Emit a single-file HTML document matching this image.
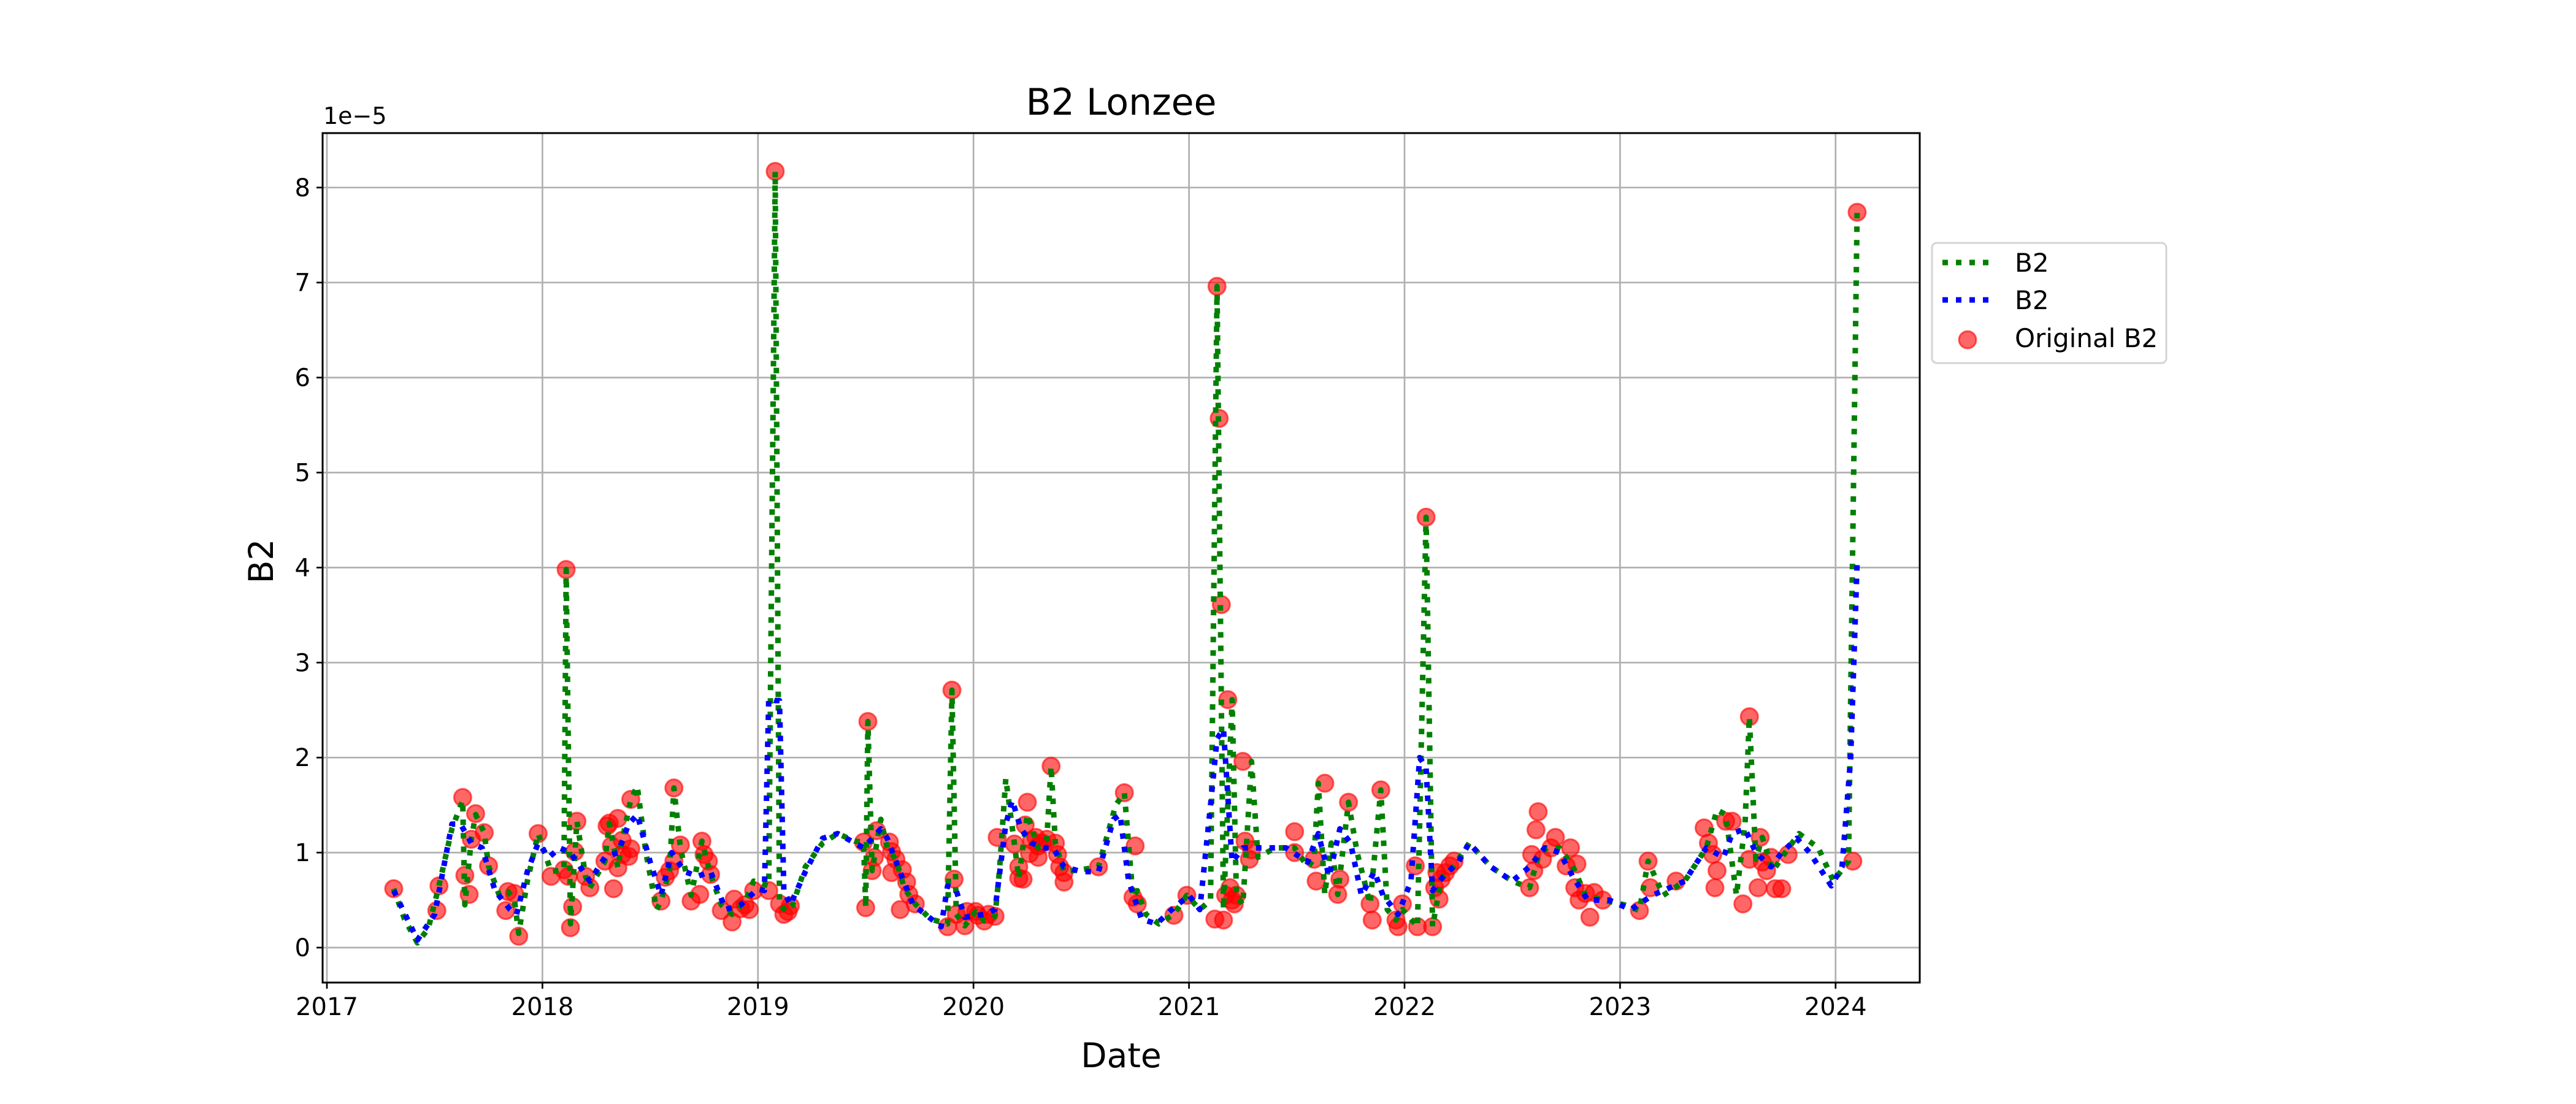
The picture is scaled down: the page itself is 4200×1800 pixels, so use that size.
<!DOCTYPE html>
<html><head><meta charset="utf-8"><style>
html,body{margin:0;padding:0;background:#fff;}
svg{display:block;font-family:"DejaVu Sans","Liberation Sans",sans-serif;}
</style></head><body>
<svg id="chart" width="4200" height="1800" viewBox="0 0 4200 1800" xmlns="http://www.w3.org/2000/svg">
<g id="grid"></g>
<g id="scatter"></g>
<g id="lines"></g>
<g id="axes"></g>
<text x="1828" y="187" font-size="60" text-anchor="middle">B2 Lonzee</text>
<text x="1828" y="1740" font-size="55" text-anchor="middle">Date</text>
<text x="445" y="915" font-size="55" text-anchor="middle" transform="rotate(-90 445 915)">B2</text>
<text x="527" y="202" font-size="38">1e−5</text>
<g>
<rect x="3150" y="396" width="382" height="196" rx="8" fill="#fff" fill-opacity="0.8" stroke="#d4d4d4" stroke-width="3"/>
<line x1="3167" y1="428" x2="3242" y2="428" stroke="#008000" stroke-width="9" stroke-dasharray="9 13"/>
<text x="3285" y="443" font-size="42">B2</text>
<line x1="3167" y1="489" x2="3242" y2="489" stroke="#0000ff" stroke-width="9" stroke-dasharray="9 13"/>
<text x="3285" y="504" font-size="42">B2</text>
<ellipse cx="3208" cy="554" rx="14" ry="14" fill="rgba(255,0,0,0.6)" stroke="rgba(255,0,0,0.6)" stroke-width="3"/>
<text x="3285" y="566" font-size="42">Original B2</text>
</g>
</svg>
<script>
const yTicks=[0,1,2,3,4,5,6,7,8];
const xTicks=[2017,2018,2019,2020,2021,2022,2023,2024];
const pointDates=[2017.31,2017.51,2017.52,2017.63,2017.64,2017.66,2017.67,2017.69,2017.73,2017.75,2017.83,2017.84,2017.87,2017.89,2017.98,2018.04,2018.10,2018.11,2018.12,2018.13,2018.14,2018.15,2018.16,2018.20,2018.22,2018.29,2018.30,2018.31,2018.32,2018.33,2018.35,2018.35,2018.37,2018.37,2018.40,2018.41,2018.41,2018.55,2018.57,2018.59,2018.61,2018.61,2018.64,2018.69,2018.73,2018.74,2018.75,2018.77,2018.78,2018.83,2018.88,2018.89,2018.92,2018.94,2018.96,2018.98,2019.05,2019.08,2019.10,2019.12,2019.14,2019.15,2019.49,2019.50,2019.51,2019.53,2019.54,2019.55,2019.61,2019.62,2019.62,2019.64,2019.66,2019.67,2019.69,2019.70,2019.73,2019.88,2019.90,2019.91,2019.92,2019.96,2019.97,2020.01,2020.02,2020.05,2020.07,2020.10,2020.11,2020.19,2020.21,2020.21,2020.23,2020.24,2020.25,2020.26,2020.27,2020.29,2020.30,2020.30,2020.32,2020.34,2020.36,2020.38,2020.39,2020.40,2020.42,2020.42,2020.58,2020.70,2020.74,2020.75,2020.76,2020.93,2020.99,2021.12,2021.13,2021.14,2021.15,2021.16,2021.17,2021.18,2021.19,2021.20,2021.21,2021.22,2021.25,2021.26,2021.28,2021.29,2021.49,2021.49,2021.58,2021.59,2021.63,2021.69,2021.70,2021.74,2021.84,2021.85,2021.89,2021.96,2021.97,2021.99,2022.05,2022.06,2022.10,2022.13,2022.14,2022.15,2022.16,2022.17,2022.19,2022.21,2022.23,2022.58,2022.59,2022.60,2022.61,2022.62,2022.64,2022.68,2022.70,2022.75,2022.77,2022.79,2022.80,2022.81,2022.84,2022.86,2022.88,2022.92,2023.09,2023.13,2023.14,2023.26,2023.39,2023.41,2023.43,2023.44,2023.45,2023.49,2023.52,2023.57,2023.60,2023.60,2023.64,2023.65,2023.66,2023.68,2023.70,2023.72,2023.75,2023.78,2024.08,2024.10];
const pointValues=[0.62,0.39,0.65,1.58,0.76,0.56,1.14,1.41,1.21,0.86,0.39,0.59,0.57,0.12,1.20,0.75,0.82,3.98,0.75,0.21,0.43,1.01,1.33,0.75,0.63,0.91,1.28,1.31,1.07,0.62,1.36,0.84,1.13,0.98,0.96,1.56,1.04,0.49,0.74,0.81,1.68,0.91,1.08,0.49,0.56,1.12,0.98,0.91,0.77,0.39,0.27,0.51,0.41,0.45,0.40,0.60,0.60,8.17,0.46,0.35,0.38,0.44,1.11,0.42,2.38,0.81,0.95,1.23,1.11,1.01,0.79,0.93,0.40,0.82,0.69,0.56,0.46,0.22,2.71,0.72,0.35,0.23,0.38,0.38,0.34,0.28,0.35,0.33,1.16,1.09,0.85,0.73,0.72,1.29,1.53,0.99,1.13,1.16,1.07,0.95,1.10,1.14,1.91,1.10,0.98,0.85,0.69,0.79,0.85,1.63,0.53,1.07,0.46,0.34,0.55,0.30,6.96,5.57,3.61,0.29,0.55,2.61,0.63,0.50,0.46,0.55,1.96,1.12,0.93,1.03,1.22,1.00,0.93,0.70,1.73,0.56,0.72,1.53,0.46,0.29,1.66,0.29,0.22,0.46,0.86,0.22,4.53,0.22,0.63,0.79,0.51,0.72,0.79,0.86,0.91,0.63,0.98,0.81,1.24,1.43,0.93,1.05,1.16,0.86,1.05,0.63,0.88,0.50,0.57,0.32,0.58,0.50,0.39,0.91,0.63,0.70,1.26,1.10,0.98,0.63,0.81,1.33,1.33,0.46,2.43,0.93,0.63,1.16,0.90,0.81,0.95,0.62,0.62,0.98,0.91,7.74];
const greenDates=[2017.31,2017.36,2017.42,2017.47,2017.52,2017.58,2017.63,2017.64,2017.67,2017.69,2017.73,2017.75,2017.80,2017.84,2017.87,2017.89,2017.93,2017.98,2018.04,2018.10,2018.11,2018.13,2018.16,2018.20,2018.22,2018.29,2018.31,2018.35,2018.37,2018.41,2018.44,2018.48,2018.53,2018.55,2018.59,2018.61,2018.64,2018.69,2018.74,2018.78,2018.83,2018.88,2018.94,2018.98,2019.05,2019.08,2019.10,2019.13,2019.16,2019.22,2019.30,2019.37,2019.45,2019.49,2019.50,2019.51,2019.53,2019.57,2019.60,2019.64,2019.68,2019.73,2019.80,2019.88,2019.90,2019.92,2019.96,2020.01,2020.05,2020.10,2020.12,2020.15,2020.19,2020.21,2020.25,2020.30,2020.34,2020.36,2020.38,2020.42,2020.50,2020.58,2020.66,2020.70,2020.74,2020.76,2020.80,2020.86,2020.93,2020.99,2021.05,2021.10,2021.13,2021.16,2021.20,2021.22,2021.25,2021.29,2021.32,2021.40,2021.49,2021.55,2021.58,2021.60,2021.63,2021.66,2021.69,2021.74,2021.78,2021.84,2021.89,2021.92,2021.96,2021.99,2022.06,2022.10,2022.13,2022.17,2022.23,2022.30,2022.40,2022.50,2022.58,2022.62,2022.66,2022.72,2022.78,2022.84,2022.92,2023.02,2023.09,2023.13,2023.20,2023.30,2023.40,2023.45,2023.49,2023.54,2023.58,2023.60,2023.63,2023.66,2023.71,2023.76,2023.83,2023.92,2023.99,2024.06,2024.10];
const greenValues=[0.62,0.30,0.05,0.20,0.65,1.25,1.55,0.45,1.14,1.40,1.21,0.86,0.55,0.59,0.50,0.15,0.70,1.20,0.80,0.82,3.98,0.25,1.33,0.75,0.63,0.91,1.31,0.84,1.13,1.56,1.70,1.00,0.40,0.49,0.81,1.68,1.05,0.55,1.12,0.77,0.45,0.35,0.48,0.70,0.65,8.17,0.46,0.38,0.44,0.85,1.10,1.20,1.12,1.11,0.42,2.38,0.81,1.35,1.05,0.93,0.62,0.46,0.30,0.25,2.71,0.35,0.23,0.38,0.28,0.33,0.80,1.78,1.09,0.73,1.40,1.05,1.14,1.91,1.10,0.80,0.82,0.85,1.50,1.63,0.53,0.60,0.35,0.25,0.35,0.55,0.40,0.50,6.96,0.40,2.61,0.55,0.45,1.96,0.95,1.05,1.05,0.85,0.93,1.73,0.56,1.10,0.56,1.53,1.00,0.46,1.66,0.40,0.29,0.40,0.22,4.53,0.22,0.72,0.86,1.10,0.85,0.70,0.63,0.95,1.05,1.05,0.86,0.55,0.50,0.45,0.39,0.91,0.55,0.70,1.05,1.45,1.40,0.55,1.30,2.43,0.93,1.16,0.81,0.98,1.20,1.05,0.70,0.91,7.74];
const blueDates=[2017.31,2017.42,2017.50,2017.58,2017.62,2017.67,2017.72,2017.78,2017.85,2017.88,2017.93,2017.98,2018.03,2018.08,2018.13,2018.16,2018.22,2018.29,2018.35,2018.40,2018.44,2018.50,2018.55,2018.60,2018.66,2018.72,2018.78,2018.85,2018.92,2019.00,2019.03,2019.05,2019.08,2019.10,2019.12,2019.15,2019.22,2019.30,2019.37,2019.45,2019.49,2019.53,2019.57,2019.60,2019.65,2019.72,2019.85,2019.88,2019.92,2019.96,2020.05,2020.10,2020.15,2020.18,2020.22,2020.27,2020.33,2020.37,2020.42,2020.50,2020.58,2020.65,2020.68,2020.72,2020.78,2020.85,2020.92,2021.00,2021.05,2021.10,2021.13,2021.16,2021.20,2021.25,2021.35,2021.45,2021.55,2021.60,2021.65,2021.70,2021.75,2021.80,2021.86,2021.90,2021.97,2022.03,2022.07,2022.10,2022.13,2022.18,2022.25,2022.30,2022.40,2022.50,2022.58,2022.65,2022.72,2022.78,2022.85,2022.95,2023.05,2023.15,2023.30,2023.40,2023.48,2023.52,2023.58,2023.63,2023.70,2023.75,2023.82,2023.88,2023.98,2024.03,2024.07,2024.10];
const blueValues=[0.60,0.08,0.35,1.30,1.30,1.10,1.05,0.60,0.40,0.35,0.80,1.10,0.95,1.05,1.00,0.90,0.70,0.95,1.00,1.30,1.40,0.90,0.55,1.00,0.80,0.75,0.80,0.40,0.45,0.62,0.60,2.62,2.60,2.60,0.60,0.45,0.80,1.15,1.20,1.10,1.05,1.15,1.25,1.15,0.85,0.45,0.22,0.65,0.60,0.32,0.35,0.40,1.30,1.55,1.25,1.10,1.05,1.05,0.85,0.80,0.80,1.35,1.40,0.70,0.30,0.25,0.40,0.55,0.40,1.50,2.20,2.30,0.90,1.05,1.05,1.05,0.90,1.20,0.75,1.25,1.10,0.55,0.80,0.55,0.35,0.70,2.00,1.90,0.60,0.75,0.90,1.10,0.85,0.70,0.85,1.05,1.00,0.75,0.50,0.50,0.40,0.55,0.70,1.05,0.95,1.20,1.25,1.00,0.85,1.00,1.15,1.00,0.65,0.85,2.00,4.05];

const NS='http://www.w3.org/2000/svg';
const L=526,R=3130,T=217,B=1602;
function xS(yr){return 533+(yr-2017)*351.4;}
function yS(v){return 1545-v*154.9;}
function mk(tag,attrs,parent){const e=document.createElementNS(NS,tag);for(const k in attrs)e.setAttribute(k,attrs[k]);parent.appendChild(e);return e;}
const grid=document.getElementById('grid'),axes=document.getElementById('axes'),sc=document.getElementById('scatter'),lines=document.getElementById('lines');
yTicks.forEach(v=>{
  const g=mk('line',{x1:L,x2:R,y1:yS(v),y2:yS(v),stroke:'#b0b0b0','stroke-width':2.7},grid);
  
  
  const t=mk('line',{x1:L-10,x2:L,y1:yS(v),y2:yS(v),stroke:'#000','stroke-width':2.7},axes);
  
  
  const lb=mk('text',{x:L-20,y:yS(v)+14,'font-size':40,'text-anchor':'end'},axes);
  lb.textContent=String(v);
  
  
});
xTicks.forEach(yr=>{
  const g=mk('line',{x1:xS(yr),x2:xS(yr),y1:T,y2:B,stroke:'#b0b0b0','stroke-width':2.7},grid);
  
  
  const t=mk('line',{x1:xS(yr),x2:xS(yr),y1:B,y2:B+10,stroke:'#000','stroke-width':2.7},axes);
  
  
  const lb=mk('text',{x:xS(yr),y:B+53,'font-size':40,'text-anchor':'middle'},axes);
  lb.textContent=String(yr);
  
  
});
const frame=mk('rect',{x:L,y:T,width:R-L,height:B-T,fill:'none',stroke:'#000','stroke-width':3},axes);


const nPts=Math.min(pointDates.length,pointValues.length);
for(let i=0;i<nPts;i++){
  const c=mk('circle',{cx:xS(pointDates[i]),cy:yS(pointValues[i]),r:14,fill:'rgba(255,0,0,0.6)',stroke:'rgba(255,0,0,0.6)','stroke-width':3},sc);
  
  
}
function path(ds,vs,color,name){
  const n=Math.min(ds.length,vs.length);
  const d=ds.slice(0,n).map((x,i)=>(i?'L':'M')+xS(x).toFixed(1)+' '+yS(vs[i]).toFixed(1)).join(' ');
  const p=mk('path',{d:d,fill:'none',stroke:color,'stroke-width':9,'stroke-dasharray':'9 13','stroke-linejoin':'round'},lines);
  
  
}
path(greenDates,greenValues,'#008000','b2-green-line');
path(blueDates,blueValues,'#0000ff','b2-blue-line');
</script>
</body></html>
